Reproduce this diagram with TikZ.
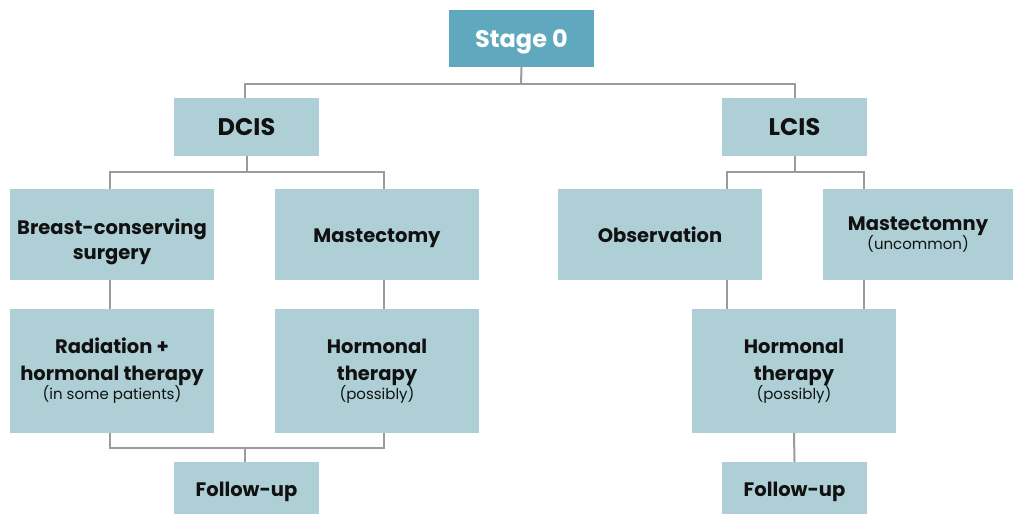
\documentclass[tikz,border=0pt]{standalone}
\usepackage{fontspec}
\setmainfont{Poppins}
\definecolor{stagec}{HTML}{5FA8BE}
\definecolor{boxc}{HTML}{AECFD6}
\definecolor{linec}{HTML}{9B9B9E}
\definecolor{txtc}{HTML}{111111}
\newcommand{\boxtxt}[2][0pt]{\vbox{\kern#1\kern#1\hbox{\begin{tabular}{@{}c@{}}#2\end{tabular}}}}
\newcommand{\smalltxt}[1]{{\mdseries\fontsize{15}{19}\selectfont #1}}
\begin{document}
\begin{tikzpicture}[x=1pt,y=-1pt,
  box/.style={fill=boxc, draw=none, inner sep=0pt, text=txtc,
    font=\bfseries\fontsize{19.5}{26.7}\selectfont},
  big/.style={box, font=\bfseries\fontsize{24}{28}\selectfont},
  conn/.style={draw=linec, line width=2pt},
]
\useasboundingbox (0,0) rectangle (1013,514);
% nodes
\node[big, fill=stagec, text=white, minimum width=145pt, minimum height=57pt] (stage) at (521.5,38.5) {\boxtxt[3pt]{Stage 0}};
\node[big, minimum width=145pt, minimum height=58pt] (dcis) at (246.5,127) {\boxtxt[2.5pt]{DCIS}};
\node[big, minimum width=145pt, minimum height=58pt] (lcis) at (794.5,127) {\boxtxt[2.5pt]{LCIS}};
\node[box, minimum width=204pt, minimum height=91pt] (bcs) at (112,234.5) {\boxtxt[7pt]{Breast-conserving\\[-2pt]surgery}};
\node[box, minimum width=204pt, minimum height=91pt] (mast) at (377,234.5) {\boxtxt[3pt]{Mastectomy}};
\node[box, minimum width=204pt, minimum height=91pt] (obs) at (660,234.5) {\boxtxt[3pt]{Observation}};
\node[box, minimum width=190pt, minimum height=91pt] (mastu) at (918,234.5) {\boxtxt{Mastectomny\\[-7.7pt]\smalltxt{(uncommon)}}};
\node[box, minimum width=204pt, minimum height=124pt] (rad) at (112,371) {\boxtxt{Radiation +\\hormonal therapy\\[-7.7pt]\smalltxt{(in some patients)}}};
\node[box, minimum width=204pt, minimum height=124pt] (horm1) at (377,371) {\boxtxt{Hormonal\\therapy\\[-7.7pt]\smalltxt{(possibly)}}};
\node[box, minimum width=204pt, minimum height=124pt] (horm2) at (794,371) {\boxtxt{Hormonal\\therapy\\[-7.7pt]\smalltxt{(possibly)}}};
\node[box, minimum width=145pt, minimum height=52pt] (fu1) at (246.5,488) {\boxtxt[3pt]{Follow-up}};
\node[box, minimum width=145pt, minimum height=52pt] (fu2) at (794.5,488) {\boxtxt[3pt]{Follow-up}};
% junction coordinates
\coordinate (top) at (521,84);
\coordinate (d1) at (110,172);
\coordinate (d2) at (384,172);
\coordinate (b1) at (110,448);
\coordinate (b2) at (384,448);
\coordinate (bm) at (245,448);
\coordinate (l1) at (727,172);
\coordinate (l2) at (864,172);
% connectors
\draw[conn] (stage.south) -- (top);
\draw[conn] (dcis.north -| bm) |- (top) -| (lcis.north);
\draw[conn] (dcis.south) -- (dcis.south |- d1);
\draw[conn] (bcs.north -| d1) |- (d2) -- (mast.north -| d2);
\draw[conn] (bcs.south -| d1) -- (rad.north -| d1);
\draw[conn] (mast.south -| d2) -- (horm1.north -| d2);
\draw[conn] (rad.south -| b1) -- (b1) -- (b2) -- (horm1.south -| b2);
\draw[conn] (fu1.north -| bm) -- (bm);
\draw[conn] (lcis.south) -- (lcis.south |- l1);
\draw[conn] (obs.north -| l1) |- (l2) -- (mastu.north -| l2);
\draw[conn] (obs.south -| l1) -- (horm2.north -| l1);
\draw[conn] (mastu.south -| l2) -- (horm2.north -| l2);
\draw[conn] (horm2.south) -- (fu2.north);
\end{tikzpicture}
\end{document}
